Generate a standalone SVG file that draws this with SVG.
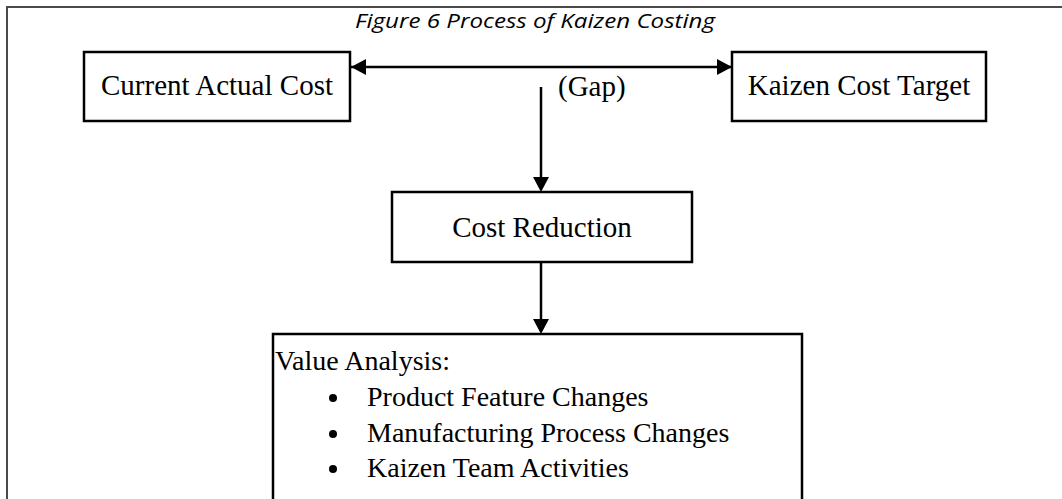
<svg xmlns="http://www.w3.org/2000/svg" width="1062" height="499" viewBox="0 0 1062 499">
  <style>
    .frame { fill: none; stroke: #4a4a4a; stroke-width: 2; }
    .box { fill: #ffffff; stroke: #000000; stroke-width: 2.5; }
    .label { font-family: "Liberation Serif", "Times New Roman", serif; font-size: 29px; fill: #000000; }
    .list { font-family: "Liberation Serif", "Times New Roman", serif; font-size: 28px; fill: #000000; }
    .title { font-family: "Open Sans", "Liberation Sans", sans-serif; font-style: italic; font-size: 19.5px; fill: #000000; }
    .edge { fill: none; stroke: #000000; stroke-width: 2.5; }
  </style>
  <defs>
    <marker id="head" viewBox="0 0 15 16" refX="15" refY="8" markerWidth="15" markerHeight="16" markerUnits="userSpaceOnUse" orient="auto-start-reverse">
      <path d="M0,0 L15,8 L0,16 Z" fill="#000000"/>
    </marker>
  </defs>

  <rect width="1062" height="499" fill="#ffffff"/>

  <!-- page frame: top and left rules -->
  <path class="frame" d="M7,510 L7,7 L1062,7"/>

  <text class="title" x="535" y="28" text-anchor="middle" textLength="360" lengthAdjust="spacingAndGlyphs">Figure 6 Process of Kaizen Costing</text>

  <g id="connectors">
    <line class="edge" x1="351" y1="67" x2="732" y2="67" marker-start="url(#head)" marker-end="url(#head)"/>
    <line class="edge" x1="541" y1="87" x2="541" y2="180"/>
    <path d="M533,177 L549,177 L541,192 Z" fill="#000000"/>
    <line class="edge" x1="541" y1="262" x2="541" y2="322"/>
    <path d="M533,319 L549,319 L541,334 Z" fill="#000000"/>
    <text class="label" x="558" y="96">(Gap)</text>
  </g>

  <g id="current-actual-cost">
    <rect class="box" x="84" y="52" width="266" height="69"/>
    <text class="label" x="217" y="95" text-anchor="middle">Current Actual Cost</text>
  </g>

  <g id="kaizen-cost-target">
    <rect class="box" x="732" y="52" width="254" height="69"/>
    <text class="label" x="859" y="95" text-anchor="middle">Kaizen Cost Target</text>
  </g>

  <g id="cost-reduction">
    <rect class="box" x="392" y="192" width="300" height="70"/>
    <text class="label" x="542" y="237" text-anchor="middle">Cost Reduction</text>
  </g>

  <g id="value-analysis">
    <rect class="box" x="273" y="334" width="529" height="190"/>
    <text class="list" x="275" y="370">Value Analysis:</text>
    <circle cx="333" cy="398" r="4"/>
    <text class="list" x="367" y="406">Product Feature Changes</text>
    <circle cx="333" cy="434" r="4"/>
    <text class="list" x="367" y="442">Manufacturing Process Changes</text>
    <circle cx="333" cy="469" r="4"/>
    <text class="list" x="367" y="477">Kaizen Team Activities</text>
  </g>
</svg>
